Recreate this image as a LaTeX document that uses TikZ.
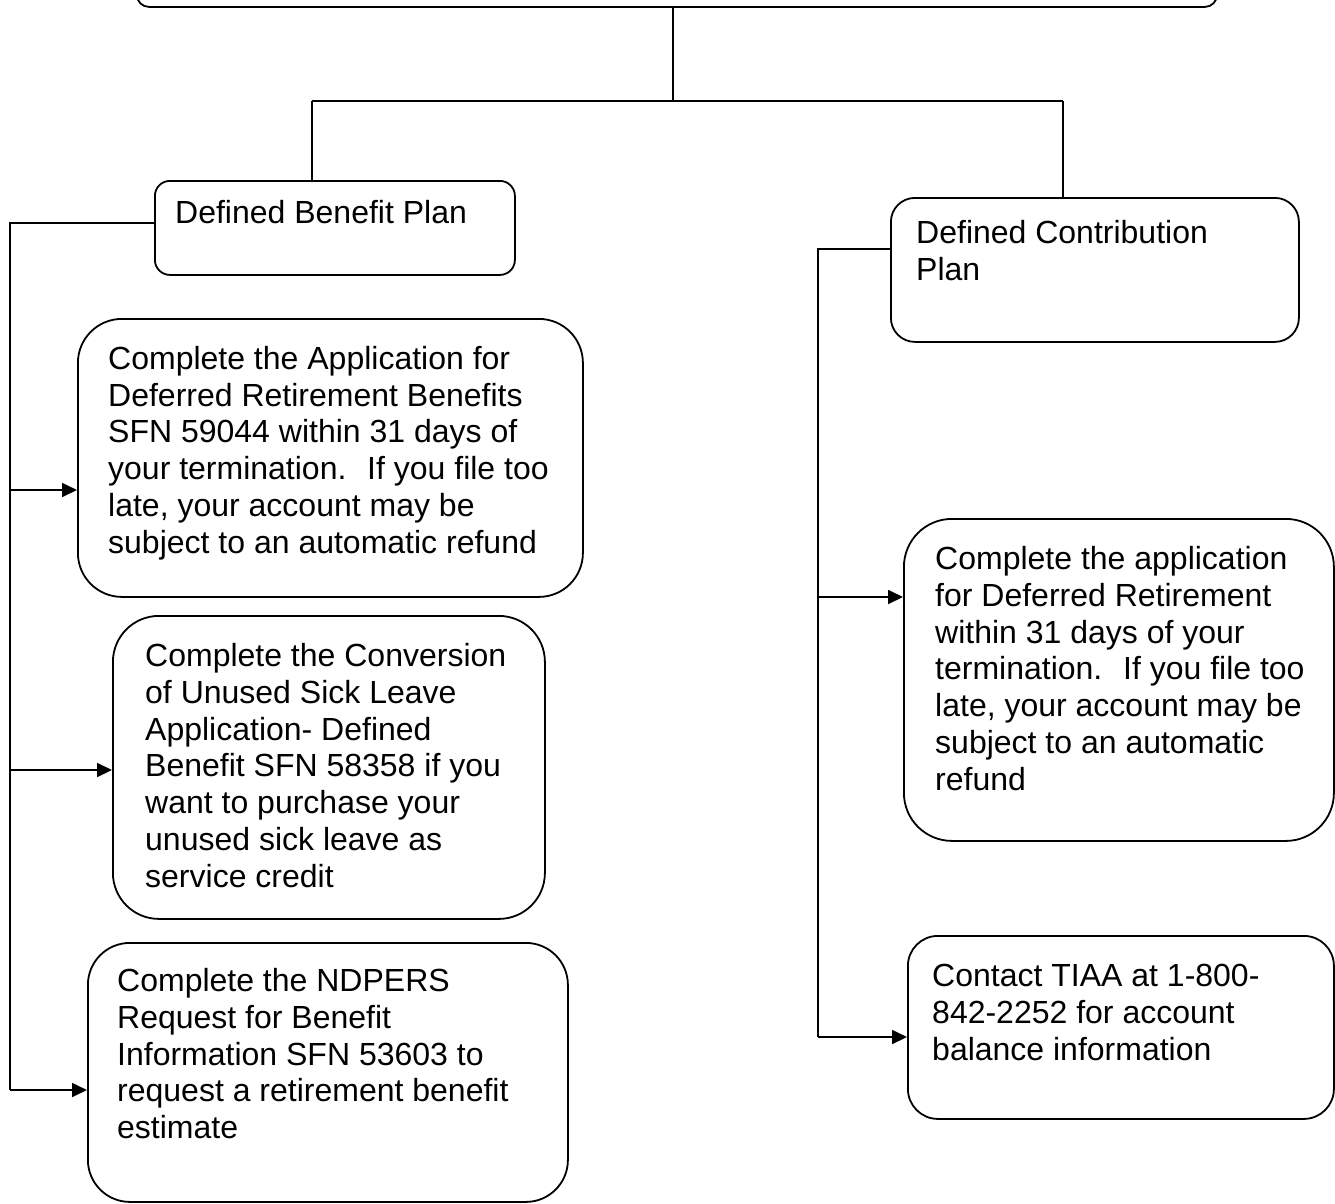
\documentclass[tikz,border=0pt]{standalone}
\usepackage{fontspec}
\setmainfont{Liberation Sans}
\usetikzlibrary{positioning,arrows.meta}

\tikzset{
  planbox/.style={draw, line width=1.8pt, inner sep=0pt, anchor=north west},
  plantext/.style={align=left, inner sep=0pt, font=\fontsize{32}{36.8}\selectfont},
  link/.style={line width=1.8pt},
  feed/.style={link, -{Triangle[length=15pt,width=14pt]}}
}

\begin{document}
\begin{tikzpicture}[x=1pt,y=-1pt]
\clip (0,0) rectangle (1335,1203);

% boxes
\node[planbox, rounded corners=12pt, minimum width=1080pt, minimum height=80pt] (top) at (136,-74) {};
\node[planbox, rounded corners=15pt, minimum width=360pt, minimum height=94pt] (db) at (154,180) {};
\node[planbox, rounded corners=24pt, minimum width=408pt, minimum height=144pt] (dc) at (890,197) {};
\node[planbox, rounded corners=44pt, minimum width=505pt, minimum height=278pt] (b1) at (77,318) {};
\node[planbox, rounded corners=46pt, minimum width=432pt, minimum height=303pt] (b2) at (112,615) {};
\node[planbox, rounded corners=42pt, minimum width=480pt, minimum height=259pt] (b3) at (87,942) {};
\node[planbox, rounded corners=48pt, minimum width=430pt, minimum height=322pt] (b4) at (903,518) {};
\node[planbox, rounded corners=30pt, minimum width=426pt, minimum height=183pt] (b5) at (907,935) {};

% texts
\node[plantext, below right=20pt and 21pt of db.north west] (dbtext) {Defined Benefit Plan};
\node[plantext, below right=23pt and 26pt of dc.north west] (dctext) {Defined Contribution\\Plan};
\node[plantext, below right=28pt and 31pt of b1.north west] (b1text)
  {Complete the Application for\\Deferred Retirement Benefits\\SFN 59044 within 31 days of\\your termination.~ If you file too\\late, your account may be\\subject to an automatic refund};
\node[plantext, below right=28pt and 33pt of b2.north west] (b2text)
  {Complete the Conversion\\of Unused Sick Leave\\Application- Defined\\Benefit SFN 58358 if you\\want to purchase your\\unused sick leave as\\service credit};
\node[plantext, below right=26pt and 30pt of b3.north west] (b3text)
  {Complete the NDPERS\\Request for Benefit\\Information SFN 53603 to\\request a retirement benefit\\estimate};
\node[plantext, below right=28pt and 32pt of b4.north west] (b4text)
  {Complete the application\\for Deferred Retirement\\within 31 days of your\\termination.~ If you file too\\late, your account may be\\subject to an automatic\\refund};
\node[plantext, below right=29pt and 25pt of b5.north west] (b5text)
  {Contact TIAA at 1-800-\\842-2252 for account\\balance information};

% top split
\coordinate (split) at (673,101);
\coordinate (busL) at (312,101);
\coordinate (busR) at (1063,101);
\draw[link] (top.south -| split) -- (split);
\draw[link] (busL) -- (busR);
\draw[link] (busL) -- (busL |- db.north);
\draw[link] (busR) -- (busR |- dc.north);

% left spine
\coordinate (spineL) at (10,223);
\coordinate (l1) at (10,490);
\coordinate (l2) at (10,770);
\coordinate (l3) at (10,1090);
\draw[link] (spineL -| db.west) -- (spineL) -- (l3);
\draw[feed] (l1) -- (l1 -| b1.west);
\draw[feed] (l2) -- (l2 -| b2.west);
\draw[feed] (l3) -- (l3 -| b3.west);

% right spine
\coordinate (spineR) at (818,249);
\coordinate (r1) at (818,597);
\coordinate (r2) at (818,1037);
\draw[link] (spineR -| dc.west) -- (spineR) -- (r2);
\draw[feed] (r1) -- (r1 -| b4.west);
\draw[feed] (r2) -- (r2 -| b5.west);
\end{tikzpicture}
\end{document}
